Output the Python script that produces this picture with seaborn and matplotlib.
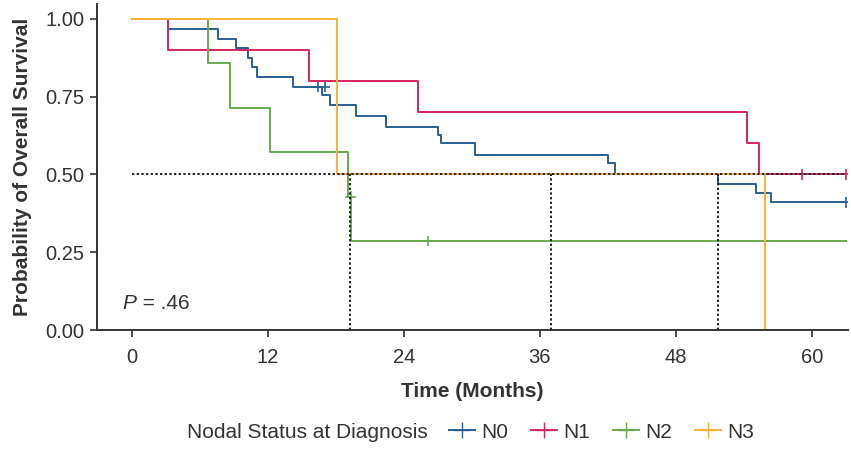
import pandas as pd
import seaborn as sns
import matplotlib.pyplot as plt
from matplotlib.lines import Line2D

# Kaplan-Meier step data (time in months, survival probability)
groups = ['N0', 'N1', 'N2', 'N3']
colors = ['#2b5f91', '#d6245e', '#6aaa4c', '#f6b436']

n0_time = [0, 3.2, 7.6, 9.2, 10.2, 10.6, 11.0, 14.2, 16.8, 17.5, 19.8, 22.4,
           27.0, 27.3, 30.3, 42.0, 42.6, 51.7, 55.1, 56.4, 63.0]
n0_surv = [1.0, 0.968, 0.935, 0.906, 0.874, 0.845, 0.813, 0.781, 0.755, 0.723, 0.688, 0.653,
           0.627, 0.601, 0.563, 0.537, 0.503, 0.47, 0.44, 0.41, 0.41]
n1_time = [0, 3.2, 15.6, 25.2, 54.3, 55.3, 63.0]
n1_surv = [1.0, 0.9, 0.8, 0.7, 0.6, 0.5, 0.5]
n2_time = [0, 6.7, 8.6, 12.2, 19.1, 19.3, 63.0]
n2_surv = [1.0, 0.857, 0.714, 0.571, 0.429, 0.286, 0.286]
n3_time = [0, 18.1, 55.9]
n3_surv = [1.0, 0.5, 0.0]

# censored observations
cens_group = ['N0', 'N0', 'N0', 'N1', 'N1', 'N2', 'N2']
cens_time = [16.4, 17.0, 63.0, 59.1, 63.0, 19.3, 26.1]
cens_surv = [0.781, 0.781, 0.41, 0.5, 0.5, 0.429, 0.286]

# median survival lines
median_times = [19.2, 37.0, 51.7]
p_text = '.46'

frames = []
for g, t, s in zip(groups, [n0_time, n1_time, n2_time, n3_time],
                   [n0_surv, n1_surv, n2_surv, n3_surv]):
    frames.append(pd.DataFrame({'time': t, 'surv': s, 'group': g}))
km = pd.concat(frames, ignore_index=True)
cens = pd.DataFrame({'time': cens_time, 'surv': cens_surv, 'group': cens_group})
palette = dict(zip(groups, colors))

plt.rcParams['font.family'] = ['Liberation Sans', 'DejaVu Sans']
fig = plt.figure(figsize=(8.51, 4.49), dpi=100)
ax = fig.add_axes([0.114, 0.265, 0.8825, 0.726])

sns.lineplot(data=km, x='time', y='surv', hue='group', palette=palette,
             drawstyle='steps-post', estimator=None, sort=False,
             linewidth=1.4, legend=False, ax=ax)
sns.scatterplot(data=cens, x='time', y='surv', hue='group', palette=palette,
                marker='+', s=60, linewidth=1.2, legend=False, ax=ax, zorder=4)

# median reference lines
ax.plot([0, 63], [0.5, 0.5], color='#222222', linestyle=(0, (1.2, 1.2)), linewidth=1.4, zorder=5)
for m in median_times:
    ax.plot([m, m], [0, 0.5], color='#222222', linestyle=(0, (1.2, 1.2)), linewidth=1.4, zorder=5)

ax.text(-0.9, 0.068, 'P', fontstyle='italic', fontsize=15, color='#333333')
ax.text(0.4, 0.068, ' = ' + p_text, fontsize=15, color='#333333')

ax.set_xlim(-3.1, 63.2)
ax.set_ylim(0, 1.048)
ax.set_xticks([0, 12, 24, 36, 48, 60])
ax.set_yticks([0, 0.25, 0.5, 0.75, 1.0])
ax.set_yticklabels(['0.00', '0.25', '0.50', '0.75', '1.00'])
ax.tick_params(labelsize=14.5, colors='#333333', length=5, width=1.2)
ax.tick_params(axis='x', pad=8)
ax.tick_params(axis='y', pad=4)
for side in ['top', 'right']:
    ax.spines[side].set_visible(False)
for side in ['left', 'bottom']:
    ax.spines[side].set_linewidth(1.4)
    ax.spines[side].set_color('#333333')

ax.set_xlabel('Time (Months)', fontsize=15, fontweight='bold', color='#333333', labelpad=11)
ax.set_ylabel('Probability of Overall Survival', fontsize=15, fontweight='bold',
              color='#333333', labelpad=10)

fig.text(187 / 851, 1 - 432 / 449, 'Nodal Status at Diagnosis', fontsize=15,
         color='#333333', va='center', ha='left')
handles = [Line2D([], [], color=c, marker='+', markersize=11, linewidth=1.4) for c in colors]
fig.legend(handles, groups, loc='center left', bbox_to_anchor=(430 / 851, 1 - 432 / 449),
           ncol=4, frameon=False, fontsize=15, handlelength=1.25, handletextpad=0.3,
           columnspacing=1.1, labelcolor='#333333')

plt.savefig('out.png', dpi=100)
